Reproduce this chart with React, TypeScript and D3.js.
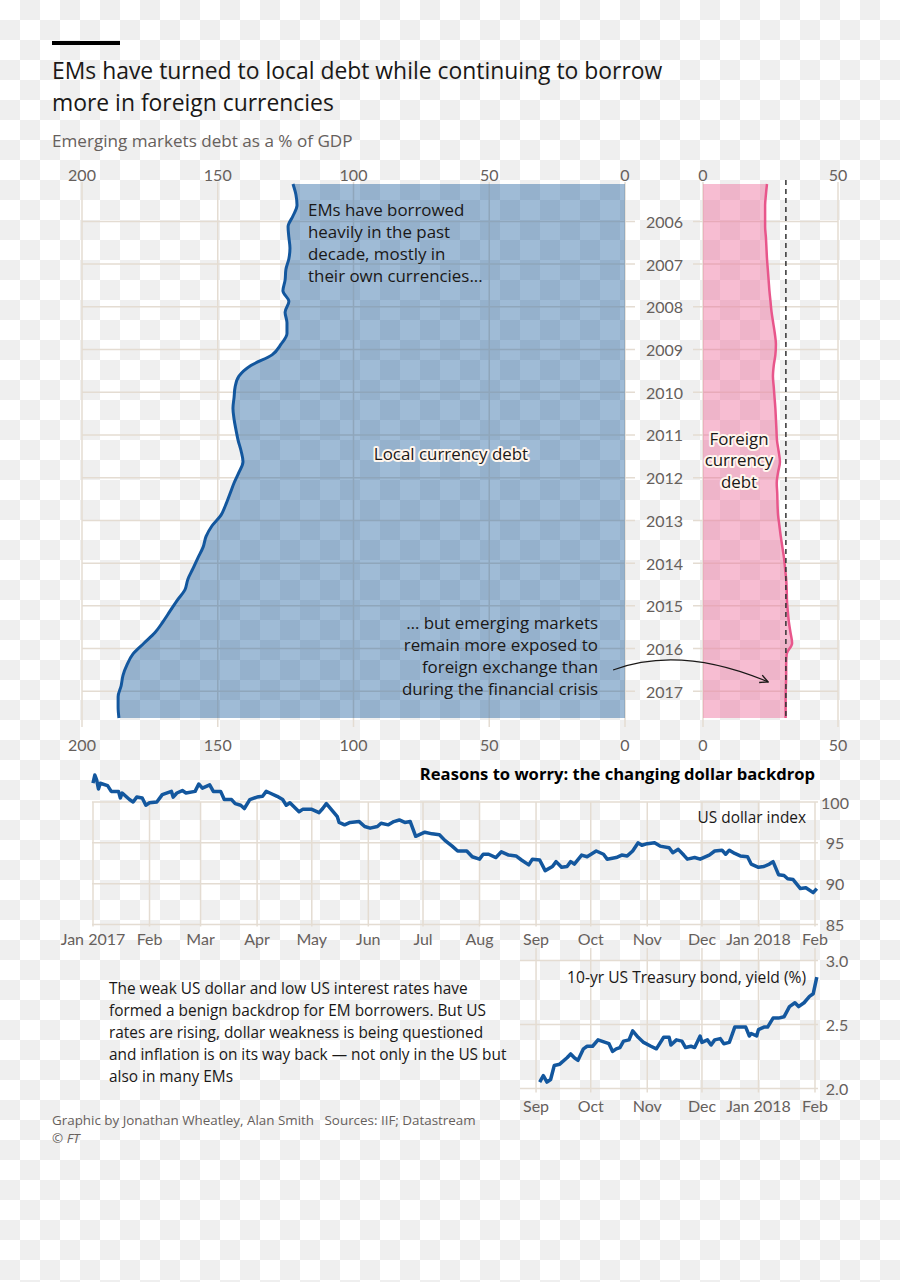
import React from 'react';
import * as d3 from 'd3';

const W = 900;
const H = 1282;

// ---------- Top chart data (quarterly, 2005 Q1 – 2017 Q3), % of GDP ----------
const firstQuarterYear = 2005;
const localCurrencyDebt = [
  122.3, 121.2, 120.8, 122.3, 124.1, 123.8, 123.4, 123.8, 124.9, 125.2,
  126.0, 123.8, 125.2, 124.5, 124.5, 126.7, 130.0, 137.8, 142.2, 143.6,
  144.0, 144.4, 144.0, 143.3, 142.5, 141.4, 140.7, 142.2, 144.0, 145.5,
  147.0, 148.8, 152.1, 154.3, 155.4, 157.3, 159.1, 161.0, 162.1, 165.0,
  167.6, 170.2, 173.1, 177.2, 181.2, 183.4, 184.9, 185.6, 186.7, 186.7,
  186.4,
];
const foreignCurrencyDebt = [
  23.7, 23.3, 23.0, 23.0, 23.0, 23.3, 23.5, 23.7, 24.0, 24.3,
  24.6, 25.0, 25.4, 26.0, 26.6, 27.0, 26.8, 26.2, 25.9, 26.2,
  26.5, 26.8, 27.0, 27.2, 27.4, 28.0, 28.5, 27.8, 27.3, 27.5,
  27.6, 27.8, 28.3, 28.8, 29.4, 30.0, 30.4, 30.8, 31.0, 31.1,
  31.4, 31.8, 32.4, 33.0, 31.0, 30.8, 30.8, 30.7, 30.6, 30.6,
  30.6,
];
const foreignReferenceLevel = 30.7;
const yearLabels = [2006, 2007, 2008, 2009, 2010, 2011, 2012, 2013, 2014, 2015, 2016, 2017];
const localTicks = [200, 150, 100, 50, 0];
const foreignTicks = [0, 50];

// ---------- Bottom charts data ----------
const dollarIndex: [string, number][] = [
  ['2017-01-01', 102.3], ['2017-01-02', 103.3], ['2017-01-03', 102.7], ['2017-01-04', 101.6], ['2017-01-05', 102.3],
  ['2017-01-09', 102.0], ['2017-01-11', 101.3], ['2017-01-15', 101.3], ['2017-01-16', 100.5], ['2017-01-17', 101.1],
  ['2017-01-21', 100.3], ['2017-01-23', 100.0], ['2017-01-25', 100.6], ['2017-01-28', 100.5], ['2017-01-30', 99.6],
  ['2017-02-01', 99.9], ['2017-02-05', 100.0], ['2017-02-08', 100.9], ['2017-02-13', 101.3], ['2017-02-14', 100.6],
  ['2017-02-16', 101.1], ['2017-02-19', 101.4], ['2017-02-21', 101.1], ['2017-02-26', 101.3], ['2017-02-28', 102.2],
  ['2017-03-02', 101.7], ['2017-03-06', 102.1], ['2017-03-08', 101.3], ['2017-03-12', 101.3], ['2017-03-14', 100.3],
  ['2017-03-18', 100.3], ['2017-03-20', 99.8], ['2017-03-23', 99.6], ['2017-03-25', 99.2], ['2017-03-28', 100.3],
  ['2017-04-01', 100.6], ['2017-04-04', 100.7], ['2017-04-06', 101.3], ['2017-04-08', 101.1], ['2017-04-12', 100.7],
  ['2017-04-15', 100.3], ['2017-04-17', 99.6], ['2017-04-19', 99.9], ['2017-04-24', 98.8], ['2017-04-26', 99.1],
  ['2017-05-01', 99.1], ['2017-05-05', 98.7], ['2017-05-07', 99.2], ['2017-05-09', 99.8], ['2017-05-12', 99.0],
  ['2017-05-15', 98.2], ['2017-05-16', 97.5], ['2017-05-19', 97.2], ['2017-05-22', 97.5], ['2017-05-27', 97.6],
  ['2017-05-30', 97.0], ['2017-06-02', 96.8], ['2017-06-06', 97.0], ['2017-06-08', 97.4], ['2017-06-12', 97.2],
  ['2017-06-15', 97.6], ['2017-06-18', 97.8], ['2017-06-21', 97.5], ['2017-06-24', 97.6], ['2017-06-27', 95.8],
  ['2017-07-02', 96.3], ['2017-07-06', 96.1], ['2017-07-10', 96.0], ['2017-07-13', 95.3], ['2017-07-17', 94.6],
  ['2017-07-20', 94.0], ['2017-07-25', 94.0], ['2017-07-28', 93.3], ['2017-08-01', 93.0], ['2017-08-03', 93.6],
  ['2017-08-06', 93.6], ['2017-08-10', 93.2], ['2017-08-13', 93.9], ['2017-08-17', 93.5], ['2017-08-21', 93.4],
  ['2017-08-24', 92.9], ['2017-08-28', 92.3], ['2017-08-30', 93.0], ['2017-09-03', 92.9], ['2017-09-06', 91.6],
  ['2017-09-10', 92.1], ['2017-09-12', 92.7], ['2017-09-15', 92.0], ['2017-09-18', 92.1], ['2017-09-20', 92.7],
  ['2017-09-22', 92.4], ['2017-09-26', 93.5], ['2017-09-29', 93.3], ['2017-10-04', 94.0], ['2017-10-08', 93.6],
  ['2017-10-10', 93.0], ['2017-10-15', 93.2], ['2017-10-18', 93.5], ['2017-10-21', 93.4], ['2017-10-24', 94.0],
  ['2017-10-27', 95.0], ['2017-10-29', 94.7], ['2017-11-01', 94.9], ['2017-11-05', 95.0], ['2017-11-08', 94.6],
  ['2017-11-13', 94.4], ['2017-11-15', 93.8], ['2017-11-18', 94.2], ['2017-11-21', 93.5], ['2017-11-23', 93.0],
  ['2017-11-27', 93.2], ['2017-11-30', 93.0], ['2017-12-05', 93.5], ['2017-12-08', 94.0], ['2017-12-12', 94.1],
  ['2017-12-14', 93.6], ['2017-12-16', 94.1], ['2017-12-19', 93.7], ['2017-12-22', 93.4], ['2017-12-26', 93.3],
  ['2017-12-28', 92.4], ['2018-01-01', 92.0], ['2018-01-04', 92.1], ['2018-01-07', 92.4], ['2018-01-09', 92.7],
  ['2018-01-12', 91.1], ['2018-01-15', 91.0], ['2018-01-17', 90.6], ['2018-01-20', 90.5], ['2018-01-24', 89.4],
  ['2018-01-27', 89.5], ['2018-01-31', 88.9], ['2018-02-02', 89.4],
];
const dollarTicks = [85, 90, 95, 100];

const treasuryYield: [string, number][] = [
  ['2017-09-03', 2.05], ['2017-09-05', 2.10], ['2017-09-07', 2.05], ['2017-09-09', 2.07], ['2017-09-11', 2.18],
  ['2017-09-14', 2.19], ['2017-09-18', 2.24], ['2017-09-20', 2.27], ['2017-09-22', 2.24], ['2017-09-24', 2.22],
  ['2017-09-27', 2.31], ['2017-09-29', 2.33], ['2017-10-02', 2.33], ['2017-10-05', 2.38], ['2017-10-09', 2.36],
  ['2017-10-11', 2.35], ['2017-10-13', 2.29], ['2017-10-15', 2.31], ['2017-10-17', 2.32], ['2017-10-19', 2.37],
  ['2017-10-22', 2.38], ['2017-10-24', 2.45], ['2017-10-27', 2.40], ['2017-10-30', 2.36], ['2017-11-03', 2.33],
  ['2017-11-06', 2.31], ['2017-11-10', 2.40], ['2017-11-13', 2.40], ['2017-11-14', 2.34], ['2017-11-17', 2.38],
  ['2017-11-20', 2.37], ['2017-11-22', 2.32], ['2017-11-25', 2.33], ['2017-11-27', 2.32], ['2017-11-30', 2.41],
  ['2017-12-01', 2.36], ['2017-12-04', 2.38], ['2017-12-06', 2.34], ['2017-12-08', 2.38], ['2017-12-11', 2.39],
  ['2017-12-13', 2.35], ['2017-12-16', 2.36], ['2017-12-17', 2.40], ['2017-12-19', 2.48], ['2017-12-22', 2.48],
  ['2017-12-25', 2.48], ['2017-12-27', 2.41], ['2017-12-28', 2.43], ['2017-12-31', 2.41], ['2018-01-01', 2.46],
  ['2018-01-04', 2.48], ['2018-01-06', 2.48], ['2018-01-09', 2.55], ['2018-01-12', 2.55], ['2018-01-15', 2.56],
  ['2018-01-18', 2.64], ['2018-01-21', 2.67], ['2018-01-23', 2.64], ['2018-01-26', 2.67], ['2018-01-29', 2.72],
  ['2018-01-31', 2.74], ['2018-02-02', 2.87],
];
const treasuryTicks = [2.0, 2.5, 3.0];

const paragraphLines = [
  'The weak US dollar and low US interest rates have',
  'formed a benign backdrop for EM borrowers. But US',
  'rates are rising, dollar weakness is being questioned',
  'and inflation is on its way back — not only in the US but',
  'also in many EMs',
];
const borrowedNote = ['EMs have borrowed', 'heavily in the past', 'decade, mostly in', 'their own currencies...'];
const exposedNote = ['… but emerging markets', 'remain more exposed to', 'foreign exchange than', 'during the financial crisis'];
const foreignLabel = ['Foreign', 'currency', 'debt'];

// ---------- Styles ----------
const TEXT_FONT = '"Open Sans", "Noto Sans", sans-serif';
const NUM_FONT = 'Lato, "Open Sans", sans-serif';
const GRID = '#e4dcd2';
const GREY = '#66605c';
const INK = '#1a1817';
const BLUE_LINE = '#13579e';
const BLUE_FILL = '#0f5499';
const PINK_LINE = '#e8568b';
const PINK_FILL = '#ee6d9c';

const parse = d3.timeParse('%Y-%m-%d');

export default function App() {
  // quarter positions (mid-quarter decimal years)
  const quarters = localCurrencyDebt.map((_, i) => firstQuarterYear + 0.125 + 0.25 * i);
  const tStart = quarters[0];
  const tEnd = quarters[quarters.length - 1];

  const xL = d3.scaleLinear().domain([200, 0]).range([82, 625]);
  const xR = d3.scaleLinear().domain([0, 50]).range([703, 838]);
  const yT = d3.scaleLinear().domain([tStart, tEnd]).range([184, 718]);

  const localArea = d3
    .area<number>()
    .y((_, i) => yT(quarters[i]))
    .x0(xL(0))
    .x1((d) => xL(d))
    .curve(d3.curveMonotoneY);
  const localLine = d3
    .line<number>()
    .y((_, i) => yT(quarters[i]))
    .x((d) => xL(d))
    .curve(d3.curveMonotoneY);
  const foreignArea = d3
    .area<number>()
    .y((_, i) => yT(quarters[i]))
    .x0(xR(0))
    .x1((d) => xR(d))
    .curve(d3.curveMonotoneY);
  const foreignLine = d3
    .line<number>()
    .y((_, i) => yT(quarters[i]))
    .x((d) => xR(d))
    .curve(d3.curveMonotoneY);

  // bottom charts
  const t0 = parse('2017-01-01')!;
  const t1 = parse('2018-02-01')!;
  const xB = d3.scaleTime().domain([t0, t1]).range([93, 815]);
  const yD = d3.scaleLinear().domain([85, 100]).range([924.5, 802]);
  const yY = d3.scaleLinear().domain([2.0, 3.0]).range([1088.5, 960.5]);

  const dollarPts = dollarIndex.map(([d, v]) => [parse(d)!, v] as [Date, number]);
  const yieldPts = treasuryYield.map(([d, v]) => [parse(d)!, v] as [Date, number]);
  const dollarLine = d3
    .line<[Date, number]>()
    .x((d) => xB(d[0]))
    .y((d) => yD(d[1]));
  const yieldLine = d3
    .line<[Date, number]>()
    .x((d) => xB(d[0]))
    .y((d) => yY(d[1]));

  const months = d3.timeMonth.range(t0, d3.timeDay.offset(t1, 1));
  const yieldStart = parse('2017-09-01')!;
  const yieldMonths = d3.timeMonth.range(yieldStart, d3.timeDay.offset(t1, 1));
  const monthLabel = (d: Date) => (d.getMonth() === 0 ? d3.timeFormat('%b %Y')(d) : d3.timeFormat('%b')(d));

  // annotation arrow
  const a0: [number, number] = [xL(4.4), yT(2016.5)];
  const a1: [number, number] = [xR(24.1), yT(2016.78)];
  const ctrl: [number, number] = [(a0[0] + a1[0]) / 2 - 10, Math.min(a0[1], a1[1]) - 25];
  const arrowPath = `M${a0[0]},${a0[1]} Q${ctrl[0]},${ctrl[1]} ${a1[0]},${a1[1]}`;

  const halo = {
    paintOrder: 'stroke' as const,
    stroke: '#fff6ee',
    strokeWidth: 4,
    strokeLinejoin: 'round' as const,
  };

  return (
    <svg
      width={W}
      height={H}
      viewBox={`0 0 ${W} ${H}`}
      style={{ position: 'absolute', left: 0, top: 0, display: 'block' }}
      fontFamily={TEXT_FONT}
    >
      <defs>
        <pattern id="checker" width={40} height={40} patternUnits="userSpaceOnUse">
          <rect width={40} height={40} fill="#ffffff" />
          <rect x={20} y={0} width={20} height={20} fill="#efefef" />
          <rect x={0} y={20} width={20} height={20} fill="#efefef" />
        </pattern>
        <marker
          id="arrowhead"
          viewBox="0 0 10 10"
          refX={9}
          refY={5}
          markerWidth={10}
          markerHeight={10}
          markerUnits="userSpaceOnUse"
          orient="auto"
        >
          <path d="M1,1 L9,5 L1,9" fill="none" stroke={INK} strokeWidth={1.4} />
        </marker>
      </defs>
      <rect width={W} height={H} fill="url(#checker)" />

      {/* header */}
      <rect x={52} y={41} width={68} height={4} fill="#000" />
      <text x={52} y={79} fontSize={22.9} fill={INK}>
        EMs have turned to local debt while continuing to borrow
      </text>
      <text x={52} y={111} fontSize={22.9} fill={INK}>
        more in foreign currencies
      </text>
      <text x={52} y={147} fontSize={17.1} fill={GREY}>
        Emerging markets debt as a % of GDP
      </text>

      {/* top chart grid */}
      <g stroke={GRID} strokeWidth={1.5}>
        {localTicks.map((t) => (
          <line key={'lv' + t} x1={xL(t)} x2={xL(t)} y1={182} y2={727} />
        ))}
        {foreignTicks.map((t) => (
          <line key={'rv' + t} x1={xR(t)} x2={xR(t)} y1={182} y2={727} />
        ))}
        {yearLabels.map((y) => (
          <g key={'h' + y}>
            <line x1={xL(200)} x2={xL(0) + 10} y1={yT(y)} y2={yT(y)} />
            <line x1={xR(0) - 10} x2={xR(50)} y1={yT(y)} y2={yT(y)} />
          </g>
        ))}
      </g>

      {/* areas */}
      <path d={localArea(localCurrencyDebt) || ''} fill={BLUE_FILL} fillOpacity={0.4} />
      <path d={localLine(localCurrencyDebt) || ''} fill="none" stroke={BLUE_LINE} strokeWidth={3} />
      <path d={foreignArea(foreignCurrencyDebt) || ''} fill={PINK_FILL} fillOpacity={0.45} />
      <path d={foreignLine(foreignCurrencyDebt) || ''} fill="none" stroke={PINK_LINE} strokeWidth={2.5} />
      <line
        x1={xR(foreignReferenceLevel)}
        x2={xR(foreignReferenceLevel)}
        y1={180}
        y2={yT(tEnd)}
        stroke="#333"
        strokeWidth={1.5}
        strokeDasharray="5,4"
      />

      {/* top & bottom tick labels */}
      <g fontSize={16} fill={GREY} textAnchor="middle" fontFamily={NUM_FONT}>
        {localTicks.map((t) => (
          <g key={'lt' + t}>
            <text x={xL(t)} y={174} dominantBaseline="central">{t}</text>
            <text x={xL(t)} y={744} dominantBaseline="central">{t}</text>
          </g>
        ))}
        {foreignTicks.map((t) => (
          <g key={'rt' + t}>
            <text x={xR(t)} y={174} dominantBaseline="central">{t}</text>
            <text x={xR(t)} y={744} dominantBaseline="central">{t}</text>
          </g>
        ))}
        {yearLabels.map((y) => (
          <text key={'yl' + y} x={(xL(0) + xR(0)) / 2 + 0.5} y={yT(y)} dominantBaseline="central">
            {y}
          </text>
        ))}
      </g>

      {/* annotations */}
      <g fontSize={16.9} fill={INK}>
        {borrowedNote.map((s, i) => (
          <text key={'bn' + i} x={308} y={209 + i * 22} dominantBaseline="central">
            {s}
          </text>
        ))}
        <text x={451} y={453} textAnchor="middle" dominantBaseline="central" style={halo}>
          Local currency debt
        </text>
        {foreignLabel.map((s, i) => (
          <text key={'fl' + i} x={739} y={438 + i * 21.5} textAnchor="middle" dominantBaseline="central" style={halo}>
            {s}
          </text>
        ))}
        {exposedNote.map((s, i) => (
          <text key={'en' + i} x={598} y={622 + i * 22} textAnchor="end" dominantBaseline="central">
            {s}
          </text>
        ))}
      </g>
      <path d={arrowPath} fill="none" stroke={INK} strokeWidth={1.2} markerEnd="url(#arrowhead)" />

      {/* ---------- Dollar index ---------- */}
      <text x={815} y={773} textAnchor="end" dominantBaseline="central" fontSize={16.6} fontWeight={700} fill="#000">
        Reasons to worry: the changing dollar backdrop
      </text>
      <g stroke={GRID} strokeWidth={1.5}>
        {dollarTicks.map((t) => (
          <line key={'dh' + t} x1={92} x2={818} y1={yD(t)} y2={yD(t)} />
        ))}
        {months.map((m) => (
          <line key={'dv' + m.getTime()} x1={xB(m)} x2={xB(m)} y1={yD(100)} y2={yD(85) + 2} />
        ))}
      </g>
      <path d={dollarLine(dollarPts) || ''} fill="none" stroke={BLUE_LINE} strokeWidth={3.5} strokeLinejoin="round" />
      <g fontSize={16} fill={GREY} textAnchor="middle" fontFamily={NUM_FONT}>
        {months.map((m) => (
          <text key={'dm' + m.getTime()} x={xB(m)} y={938} dominantBaseline="central">
            {monthLabel(m)}
          </text>
        ))}
        {dollarTicks.map((t) => (
          <text key={'dy' + t} x={835} y={yD(t)} dominantBaseline="central">
            {t}
          </text>
        ))}
      </g>
      <text x={806} y={817} textAnchor="end" dominantBaseline="central" fontSize={15.4} fill={INK}>
        US dollar index
      </text>

      {/* ---------- Treasury yield ---------- */}
      <g stroke={GRID} strokeWidth={1.5}>
        {treasuryTicks.map((t) => (
          <line key={'th' + t} x1={520} x2={818} y1={yY(t)} y2={yY(t)} />
        ))}
        {yieldMonths.map((m) => (
          <line key={'tv' + m.getTime()} x1={xB(m)} x2={xB(m)} y1={948} y2={yY(2.0) + 4} />
        ))}
      </g>
      <text x={806} y={977} textAnchor="end" dominantBaseline="central" fontSize={15.6} fill={INK}>
        10-yr US Treasury bond, yield (%)
      </text>
      <path d={yieldLine(yieldPts) || ''} fill="none" stroke={BLUE_LINE} strokeWidth={3.5} strokeLinejoin="round" />
      <g fontSize={16} fill={GREY} textAnchor="middle" fontFamily={NUM_FONT}>
        {yieldMonths.map((m) => (
          <text key={'tm' + m.getTime()} x={xB(m)} y={1105} dominantBaseline="central">
            {monthLabel(m)}
          </text>
        ))}
        {treasuryTicks.map((t) => (
          <text key={'ty' + t} x={837} y={yY(t)} dominantBaseline="central">
            {t.toFixed(1)}
          </text>
        ))}
      </g>

      {/* paragraph */}
      <g fontSize={15.4} fill={INK}>
        {paragraphLines.map((s, i) => (
          <text key={'p' + i} x={109} y={988 + i * 22} dominantBaseline="central">
            {s}
          </text>
        ))}
      </g>

      {/* footer */}
      <text x={52} y={1120} dominantBaseline="central" fontSize={13.4} fill={GREY}>
        Graphic by Jonathan Wheatley, Alan Smith{'\u00a0\u00a0 '}Sources: IIF; Datastream
      </text>
      <text x={52} y={1138} dominantBaseline="central" fontSize={13.4} fill={GREY}>
        ©{' '}
        <tspan fontStyle="italic">FT</tspan>
      </text>
    </svg>
  );
}
